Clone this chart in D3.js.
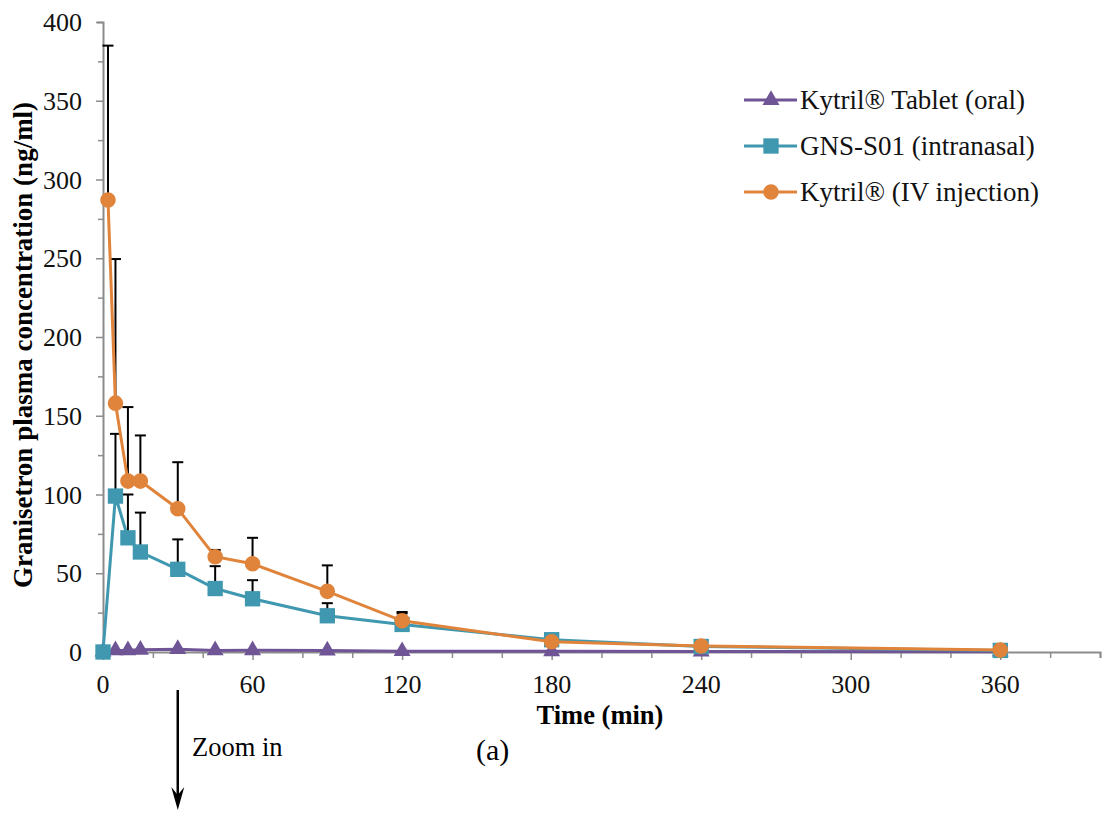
<!DOCTYPE html>
<html>
<head>
<meta charset="utf-8">
<script src="https://cdn.jsdelivr.net/npm/d3@7/dist/d3.min.js"></script>
<style>
  html, body { margin: 0; padding: 0; background: #fff; }
  svg { display: block; }
</style>
</head>
<body>
<svg id="chart" width="1104" height="814"></svg>
<script>
// Granisetron plasma concentration-time profiles (mean + SD)
const seriesNames = ["Kytril® Tablet (oral)", "GNS-S01 (intranasal)", "Kytril® (IV injection)"];
const seriesColors = ["#6f5596", "#3f98b0", "#e0843b"];
const seriesShapes = ["triangle", "square", "circle"];

const oralTime = [0, 5, 10, 15, 30, 45, 60, 90, 120, 180, 240, 360];
const oralConc = [0.3, 1.0, 1.1, 1.4, 1.8, 1.0, 1.1, 0.9, 0.5, 0.4, 0.3, 0.2];

const nasalTime = [0, 5, 10, 15, 30, 45, 60, 90, 120, 180, 240, 360];
const nasalConc = [0, 99, 72.5, 63.5, 52.5, 40.3, 33.8, 23, 17.5, 7.8, 3.5, 1.0];
const nasalSD   = [0, 39.5, 27.5, 25, 19, 14.2, 11.8, 8, 7, 2.8, 1.2, 0.3];

const ivTime = [2, 5, 10, 15, 30, 45, 60, 90, 120, 180, 240, 360];
const ivConc = [287, 158, 108.5, 108.5, 91, 60.5, 56, 38.5, 19.8, 6.5, 3.8, 1.2];
const ivSD   = [98, 91.5, 47, 29, 29.5, 4.3, 16.5, 16.5, 5.6, 1.5, 0.8, 0.3];

const xTicks = [0, 60, 120, 180, 240, 300, 360];
const yTicks = [0, 50, 100, 150, 200, 250, 300, 350, 400];

const FONT = "Liberation Serif";
const svg = d3.select("#chart").attr("font-family", FONT);
const x = d3.scaleLinear().domain([0, 400]).range([103, 1100]);
const y = d3.scaleLinear().domain([0, 400]).range([652, 22]);
const axisGrey = "#8c8c8c";

// y axis
const yAxis = svg.append("g").attr("transform", `translate(${x(0)},0)`)
  .call(d3.axisLeft(y).tickValues(d3.range(0, 401, 25)).tickSize(6).tickFormat(""));
yAxis.select(".domain").attr("stroke", axisGrey).attr("stroke-width", 2);
yAxis.selectAll(".tick line").attr("stroke", axisGrey).attr("stroke-width", 1.5)
  .attr("x2", d => d % 50 === 0 ? -7 : -5);
svg.append("g").selectAll("text").data(yTicks).join("text")
  .attr("font-family", FONT)
  .attr("x", 82).attr("y", d => y(d)).attr("dy", "0.35em")
  .attr("text-anchor", "end").attr("font-size", 26).attr("fill", "#111")
  .text(d => d);

// x axis
const xAxis = svg.append("g").attr("transform", `translate(0,${y(0)})`)
  .call(d3.axisBottom(x).tickValues(d3.range(0, 401, 20)).tickSize(6).tickFormat(""));
xAxis.select(".domain").attr("stroke", axisGrey).attr("stroke-width", 2);
xAxis.selectAll(".tick line").attr("stroke", axisGrey).attr("stroke-width", 1.5)
  .attr("y2", d => d % 60 === 0 ? 8 : 6);
svg.append("g").selectAll("text").data(xTicks).join("text")
  .attr("font-family", FONT)
  .attr("x", d => x(d)).attr("y", 693)
  .attr("text-anchor", "middle").attr("font-size", 26).attr("fill", "#111")
  .text(d => d);

// axis titles
svg.append("text").attr("font-family", FONT).attr("x", 600).attr("y", 724)
  .attr("text-anchor", "middle").attr("font-size", 26.5).attr("font-weight", "bold")
  .text("Time (min)");
svg.append("text").attr("font-family", FONT).attr("transform", "translate(32,345) rotate(-90)")
  .attr("text-anchor", "middle").attr("font-size", 27).attr("font-weight", "bold")
  .text("Granisetron plasma concentration (ng/ml)");

// error bars (upper only)
function errorBars(times, conc, sd) {
  const g = svg.append("g").attr("stroke", "#000").attr("stroke-width", 2);
  const pts = times.map((t, i) => ({ t, v: conc[i], e: sd[i] })).filter(d => d.e > 0);
  g.selectAll("line.v").data(pts).join("line")
    .attr("x1", d => x(d.t)).attr("x2", d => x(d.t))
    .attr("y1", d => y(d.v)).attr("y2", d => y(d.v + d.e));
  g.selectAll("line.c").data(pts).join("line")
    .attr("x1", d => x(d.t) - 5.5).attr("x2", d => x(d.t) + 5.5)
    .attr("y1", d => y(d.v + d.e)).attr("y2", d => y(d.v + d.e));
}

const symbolTypes = { triangle: d3.symbolTriangle, square: d3.symbolSquare, circle: d3.symbolCircle };
const symbolSizes = { triangle: 125, square: 235, circle: 190 };

function series(times, conc, idx) {
  const data = times.map((t, i) => ({ t, v: conc[i] }));
  const color = seriesColors[idx];
  svg.append("path").datum(data)
    .attr("fill", "none").attr("stroke", color).attr("stroke-width", 3)
    .attr("d", d3.line().x(d => x(d.t)).y(d => y(d.v)));
  const sym = d3.symbol().type(symbolTypes[seriesShapes[idx]]).size(symbolSizes[seriesShapes[idx]]);
  svg.append("g").selectAll("path").data(data).join("path")
    .attr("transform", d => `translate(${x(d.t)},${y(d.v)})`)
    .attr("d", sym).attr("fill", color);
}

errorBars(nasalTime, nasalConc, nasalSD);
errorBars(ivTime, ivConc, ivSD);
series(oralTime, oralConc, 0);
series(nasalTime, nasalConc, 1);
series(ivTime, ivConc, 2);

// legend
const legend = svg.append("g");
seriesNames.forEach((name, i) => {
  const ly = 100 + i * 46;
  legend.append("line").attr("x1", 744).attr("x2", 797).attr("y1", ly).attr("y2", ly)
    .attr("stroke", seriesColors[i]).attr("stroke-width", 3);
  legend.append("path")
    .attr("transform", `translate(771,${ly})`)
    .attr("d", d3.symbol().type(symbolTypes[seriesShapes[i]]).size(symbolSizes[seriesShapes[i]])())
    .attr("fill", seriesColors[i]);
  legend.append("text").attr("font-family", FONT).attr("x", 800).attr("y", ly).attr("dy", "0.35em")
    .attr("font-size", 27).attr("fill", "#111").text(name);
});

// annotation arrow and panel label
svg.append("line").attr("x1", x(30)).attr("x2", x(30)).attr("y1", 690).attr("y2", 800)
  .attr("stroke", "#000").attr("stroke-width", 2.5);
svg.append("path")
  .attr("d", `M${x(30) - 6.5},787 L${x(30)},810 L${x(30) + 6.5},787 L${x(30)},795 Z`)
  .attr("fill", "#000");
svg.append("text").attr("font-family", FONT).attr("x", 192).attr("y", 756).attr("font-size", 26.5).text("Zoom in");
svg.append("text").attr("font-family", FONT).attr("x", 476).attr("y", 760).attr("font-size", 30).text("(a)");
</script>
</body>
</html>
